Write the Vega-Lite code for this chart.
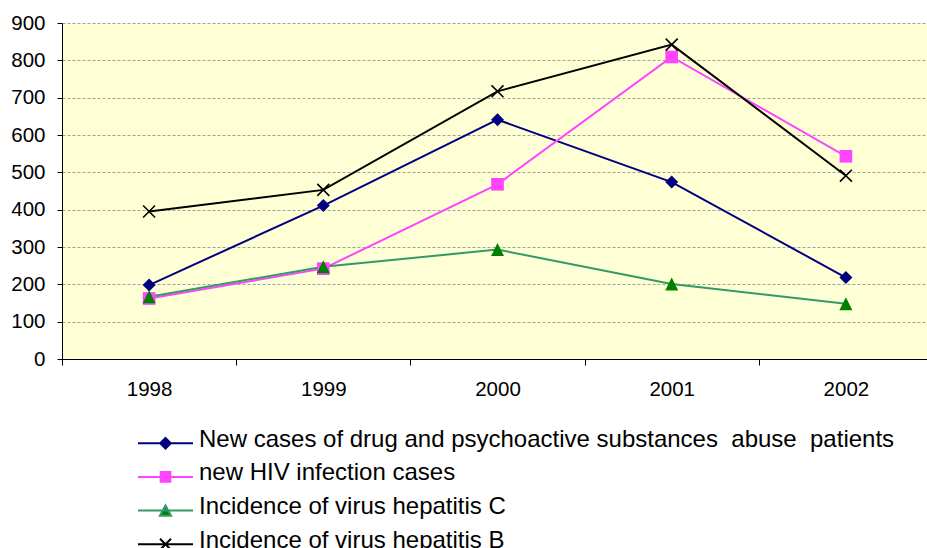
{
  "$schema": "https://vega.github.io/schema/vega-lite/v6.json",
  "width": 865,
  "height": 336,
  "autosize": {"type": "none"},
  "padding": {"left": 62, "top": 23, "right": 0, "bottom": 189},
  "background": "white",
  "config": {
    "font": "Liberation Sans",
    "view": {"fill": "#FFFFD5", "stroke": null},
    "legend": {
      "title": null,
      "orient": "none",
      "direction": "vertical",
      "legendX": 91.5,
      "legendY": 404.7,
      "padding": 0,
      "labelFontSize": 24,
      "labelColor": "#000000",
      "labelOffset": 21.5,
      "labelLimit": 0,
      "rowPadding": 8.7,
      "symbolSize": 400,
      "symbolStrokeWidth": 2,
      "symbolOpacity": 1
    }
  },
  "data": {
    "values": [
      {"year": "1998", "series": "New cases of drug and psychoactive substances\u00a0 abuse\u00a0 patients", "value": 198},
      {"year": "1999", "series": "New cases of drug and psychoactive substances\u00a0 abuse\u00a0 patients", "value": 411},
      {"year": "2000", "series": "New cases of drug and psychoactive substances\u00a0 abuse\u00a0 patients", "value": 641},
      {"year": "2001", "series": "New cases of drug and psychoactive substances\u00a0 abuse\u00a0 patients", "value": 474},
      {"year": "2002", "series": "New cases of drug and psychoactive substances\u00a0 abuse\u00a0 patients", "value": 218},
      {"year": "1998", "series": "new HIV infection cases", "value": 162},
      {"year": "1999", "series": "new HIV infection cases", "value": 242},
      {"year": "2000", "series": "new HIV infection cases", "value": 468},
      {"year": "2001", "series": "new HIV infection cases", "value": 809},
      {"year": "2002", "series": "new HIV infection cases", "value": 543},
      {"year": "1998", "series": "Incidence of virus hepatitis C", "value": 167},
      {"year": "1999", "series": "Incidence of virus hepatitis C", "value": 247},
      {"year": "2000", "series": "Incidence of virus hepatitis C", "value": 293},
      {"year": "2001", "series": "Incidence of virus hepatitis C", "value": 201},
      {"year": "2002", "series": "Incidence of virus hepatitis C", "value": 148},
      {"year": "1998", "series": "Incidence of virus hepatitis B", "value": 395},
      {"year": "1999", "series": "Incidence of virus hepatitis B", "value": 453},
      {"year": "2000", "series": "Incidence of virus hepatitis B", "value": 717},
      {"year": "2001", "series": "Incidence of virus hepatitis B", "value": 842},
      {"year": "2002", "series": "Incidence of virus hepatitis B", "value": 491}
    ]
  },
  "encoding": {
    "x": {
      "field": "year",
      "type": "ordinal",
      "scale": {"type": "band", "paddingInner": 0, "paddingOuter": 0, "range": [0, 871]},
      "axis": {
        "title": null,
        "tickBand": "extent",
        "labelAngle": 0,
        "grid": false,
        "domainColor": "#000000",
        "tickColor": "#000000",
        "tickSize": 6,
        "labelFontSize": 20.5,
        "labelColor": "#000000",
        "labelPadding": 14
      }
    },
    "y": {
      "field": "value",
      "type": "quantitative",
      "scale": {"domain": [0, 900], "nice": false},
      "axis": {
        "title": null,
        "values": [0, 100, 200, 300, 400, 500, 600, 700, 800, 900],
        "domainColor": "#000000",
        "tickColor": "#000000",
        "tickSize": 5,
        "labelFontSize": 20.5,
        "labelColor": "#000000",
        "labelPadding": 12,
        "grid": true,
        "gridColor": "#a0a0a0",
        "gridDash": [3, 2],
        "gridWidth": 1
      }
    }
  },
  "layer": [
    {
      "mark": {"type": "line", "strokeWidth": 2},
      "encoding": {
        "stroke": {
          "field": "series",
          "type": "nominal",
          "scale": {
            "domain": [
              "New cases of drug and psychoactive substances\u00a0 abuse\u00a0 patients",
              "new HIV infection cases",
              "Incidence of virus hepatitis C",
              "Incidence of virus hepatitis B"
            ],
            "range": ["#000080", "#FF44FF", "#339966", "#000000"]
          }
        }
      }
    },
    {
      "description": "Legend key: line segment with the series marker; draws nothing in the plot.",
      "transform": [{"filter": "false"}],
      "mark": {"type": "point", "filled": true, "opacity": 1},
      "encoding": {
        "stroke": {"field": "series", "type": "nominal"},
        "fill": {
          "field": "series",
          "type": "nominal",
          "scale": {
            "domain": [
              "New cases of drug and psychoactive substances\u00a0 abuse\u00a0 patients",
              "new HIV infection cases",
              "Incidence of virus hepatitis C",
              "Incidence of virus hepatitis B"
            ],
            "range": ["#000080", "#FF44FF", "#008000", "#000000"]
          }
        },
        "shape": {
          "field": "series",
          "type": "nominal",
          "scale": {
            "domain": [
              "New cases of drug and psychoactive substances\u00a0 abuse\u00a0 patients",
              "new HIV infection cases",
              "Incidence of virus hepatitis C",
              "Incidence of virus hepatitis B"
            ],
            "range": [
              "M-2.75,0.35H2.75M0,-0.18L0.53,0.35L0,0.88L-0.53,0.35Z",
              "M-2.75,0.35H2.75M-0.48,-0.13H0.48V0.83H-0.48Z",
              "M-2.75,0.35H2.75M0,-0.17L0.56,0.87H-0.56Z",
              "M-2.75,0.35H2.75M-0.55,-0.2L0.55,0.9M-0.55,0.9L0.55,-0.2"
            ]
          }
        }
      }
    },
    {
      "transform": [{"filter": {"field": "series", "equal": "New cases of drug and psychoactive substances\u00a0 abuse\u00a0 patients"}}],
      "mark": {"type": "point", "shape": "diamond", "filled": true, "fill": "#000080", "size": 169, "opacity": 1}
    },
    {
      "transform": [{"filter": {"field": "series", "equal": "new HIV infection cases"}}],
      "mark": {"type": "point", "shape": "square", "filled": true, "fill": "#FF44FF", "size": 160, "opacity": 1}
    },
    {
      "transform": [{"filter": {"field": "series", "equal": "Incidence of virus hepatitis C"}}],
      "mark": {"type": "point", "shape": "M0,-1L1,1H-1Z", "filled": true, "fill": "#008000", "size": 169, "opacity": 1}
    },
    {
      "transform": [{"filter": {"field": "series", "equal": "Incidence of virus hepatitis B"}}],
      "mark": {"type": "point", "shape": "M-0.92,-0.92L0.92,0.92M-0.92,0.92L0.92,-0.92", "filled": false, "stroke": "#000000", "strokeWidth": 1.6, "size": 169, "opacity": 1}
    }
  ]
}
